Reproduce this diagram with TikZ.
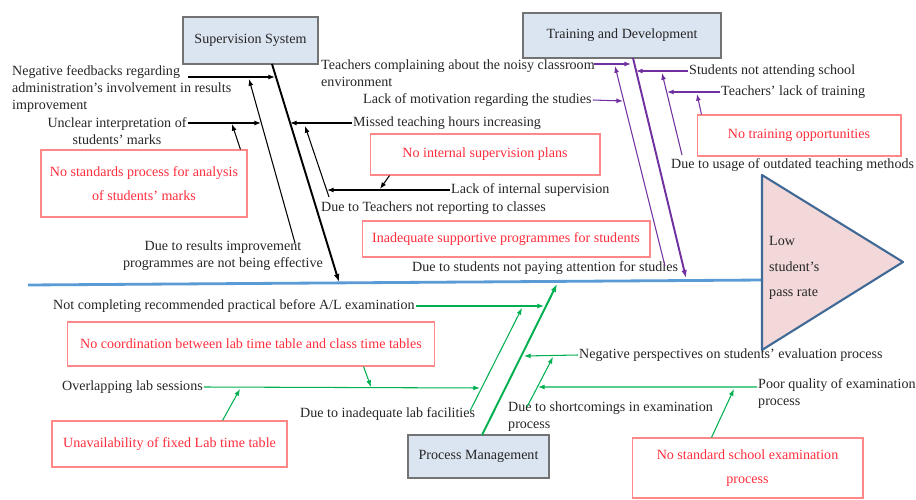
\documentclass[tikz,border=0pt]{standalone}
\usepackage{fontspec}
\setmainfont{Liberation Serif}
\usetikzlibrary{arrows.meta}
\definecolor{spineblue}{RGB}{91,155,213}
\definecolor{effline}{RGB}{65,105,150}
\definecolor{effpink}{RGB}{242,216,216}
\definecolor{catfill}{RGB}{219,228,241}
\definecolor{boxred}{RGB}{255,135,135}
\definecolor{txtred}{RGB}{255,45,60}
\definecolor{trpurple}{RGB}{112,48,160}
\definecolor{prgreen}{RGB}{0,176,80}

\begin{document}
\begin{tikzpicture}[x=0.02cm, y=-0.02cm,
    font=\fontsize{8}{9.7}\selectfont,
    txt/.style={
        inner sep=0.5pt,
        text=black!85
    },
    catbox/.style={
        draw=black!55,
        fill=catfill,
        line width=0.6pt,
        text=black!85
    },
    redbox/.style={
        draw=boxred,
        line width=0.6pt,
        text=txtred,
        align=center,
        font=\fontsize{8}{14}\selectfont
    },
    spine/.style={
        spineblue,
        line width=1.6pt
    },
    bone/.style={
        line width=1.1pt,
        -{Latex[length=4.5pt,width=3.2pt]}
    },
    twig/.style={
        line width=0.6pt,
        -{Latex[length=3.8pt,width=2.8pt]}
    }
]
\useasboundingbox (0,0) rectangle (916,500);

% spine and effect
\coordinate (spineTail) at (28,285);
\coordinate (spineHead) at (764,280);
\draw[spine] (spineTail) -- (spineHead);

\path[
    draw=effline,
    fill=effpink,
    line width=1.2pt,
    line join=round
]
(762,175) coordinate (effTop)
-- (903,262) coordinate (effTip)
-- (762,350) coordinate (effBot)
-- cycle;

\node[txt, anchor=west, align=left, font=\fontsize{8}{14.5}\selectfont]
(effect) at (768,268) {Low\\student's\\pass rate};

% categories
\node[catbox, minimum width=2.70cm, minimum height=0.94cm]
(supBox) at (250.5,40.5) {Supervision System};
\node[catbox, minimum width=3.96cm, minimum height=0.90cm]
(trainBox) at (622,35.5) {Training and Development};
\node[catbox, minimum width=2.82cm, minimum height=0.86cm]
(procBox) at (478.5,456.5) {Process Management};

% supervision system
\node[txt, anchor=west, align=left] (negFb) at (11,89)
{Negative feedbacks regarding\\administration's involvement in results\\improvement};
\node[txt, align=center] (unclear) at (117,131)
{Unclear interpretation of\\students' marks};
\node[txt, align=center] (dueResults) at (223,256)
{Due to results improvement\\programmes are not being effective};
\node[txt, anchor=west] (missed) at (352,123) {Missed teaching hours increasing};
\node[txt, anchor=west] (lackSup) at (450,190) {Lack of internal supervision};
\node[txt, anchor=west] (dueTeach) at (320,208) {Due to Teachers not reporting to classes};

\node[redbox, minimum width=4.12cm, minimum height=1.34cm]
(noStd) at (144,183.5) {No standards process for analysis\\of students' marks};
\node[redbox, minimum width=4.60cm, minimum height=0.82cm]
(noIntSup) at (485,154.5) {No internal supervision plans};
\node[redbox, minimum width=5.76cm, minimum height=0.72cm]
(inadeq) at (506,239) {Inadequate supportive programmes for students};

\coordinate (supTop) at (272,64);
\coordinate (supEnd) at (339,282);
\coordinate (nfStart) at (188,77);
\coordinate (nfEnd) at (275,77);
\coordinate (drStart) at (295,243);
\coordinate (drEnd) at (249,79);
\coordinate (unStart) at (188,123);
\coordinate (unEnd) at (261,123);
\coordinate (nsEnd) at (232,124);
\coordinate (msEnd) at (290,123);
\coordinate (dtStart) at (329,197);
\coordinate (dtEnd) at (305,126);
\coordinate (lsEnd) at (327,190);
\coordinate (isEnd) at (380,189);

\draw[bone] (supTop) -- (supEnd);
\draw[twig] (nfStart) -- (nfEnd);
\draw[twig] (drStart) -- (drEnd);
\draw[twig] (unStart) -- (unEnd);
\draw[twig] ([xshift=-0.14cm]noStd.north east) -- (nsEnd);
\draw[twig] (missed.west) -- (msEnd);
\draw[twig] (dtStart) -- (dtEnd);
\draw[twig] (lackSup.west) -- (lsEnd);
\draw[twig] ([xshift=0.4cm]noIntSup.south west) -- (isEnd);

% training and development
\begin{scope}[trpurple]
\node[txt, anchor=west, align=left] (teachNoisy) at (320,73)
{Teachers complaining about the noisy classroom\\environment};
\node[txt, anchor=west] (lackMot) at (362,100) {Lack of motivation regarding the studies};
\node[txt, anchor=west] (studNot) at (688,71) {Students not attending school};
\node[txt, anchor=west] (teachTrain) at (720,92) {Teachers' lack of training};
\node[txt, anchor=west] (dueOutdated) at (670,165) {Due to usage of outdated teaching methods};
\node[txt, anchor=west] (dueStudents) at (411,268) {Due to students not paying attention for studies};

\node[redbox, minimum width=4.08cm, minimum height=0.82cm]
(noTrain) at (799,135.5) {No training opportunities};

\coordinate (trTop) at (633,58);
\coordinate (trEnd) at (686,278);
\coordinate (tnStart) at (594,64);
\coordinate (tnEnd) at (631,64);
\coordinate (dsStart) at (665,266);
\coordinate (dsEnd) at (615,66);
\coordinate (lmEnd) at (623,101);
\coordinate (snEnd) at (636,71);
\coordinate (doStart) at (682,155);
\coordinate (doEnd) at (662,73);
\coordinate (ttEnd) at (667,92);
\coordinate (ntEnd) at (697,94);

\draw[bone] (trTop) -- (trEnd);
\draw[twig] (tnStart) -- (tnEnd);
\draw[twig] (dsStart) -- (dsEnd);
\draw[twig] (lackMot.east) -- (lmEnd);
\draw[twig] (studNot.west) -- (snEnd);
\draw[twig] (doStart) -- (doEnd);
\draw[twig] (teachTrain.west) -- (ttEnd);
\draw[twig] ([xshift=0.1cm]noTrain.north west) -- (ntEnd);
\end{scope}

% process management
\begin{scope}[prgreen]
\node[txt, anchor=west] (notCompl) at (52,306)
{Not completing recommended practical before A/L examination};
\node[txt, anchor=west] (overlap) at (61,387) {Overlapping lab sessions};
\node[txt, anchor=west] (dueLab) at (299,414) {Due to inadequate lab facilities};
\node[txt, anchor=west] (negPersp) at (578,355)
{Negative perspectives on students' evaluation process};
\node[txt, anchor=west, align=left] (poorQual) at (757,394)
{Poor quality of examination\\process};
\node[txt, anchor=west, align=left] (dueShort) at (507,417)
{Due to shortcomings in examination\\process};

\node[redbox, minimum width=7.36cm, minimum height=0.88cm]
(noCoord) at (251,344) {No coordination between lab time table and class time tables};
\node[redbox, minimum width=4.70cm, minimum height=0.92cm]
(unavail) at (169.5,444) {Unavailability of fixed Lab time table};
\node[redbox, minimum width=4.62cm, minimum height=1.20cm]
(noSchool) at (747.5,468) {No standard school examination\\process};

\coordinate (prTop) at (482,435);
\coordinate (prEnd) at (557,284);
\coordinate (ncEnd) at (544,306);
\coordinate (dlStart) at (470,411);
\coordinate (dlEnd) at (522,308);
\coordinate (olEnd) at (480,388);
\coordinate (coEnd) at (371,387);
\coordinate (unvEnd) at (240,389);
\coordinate (npEnd) at (524,356);
\coordinate (shStart) at (527,407);
\coordinate (shEnd) at (553,357);
\coordinate (pqEnd) at (538,387);
\coordinate (scEnd) at (734,389);

\draw[bone] (prTop) -- (prEnd);
\draw[twig] (notCompl.east) -- (ncEnd);
\draw[twig] (dlStart) -- (dlEnd);
\draw[twig] (overlap.east) -- (olEnd);
\draw[twig] ([xshift=-1.44cm]noCoord.south east) -- (coEnd);
\draw[twig] ([xshift=-1.3cm]unavail.north east) -- (unvEnd);
\draw[twig] (negPersp.west) -- (npEnd);
\draw[twig] (shStart) -- (shEnd);
\draw[twig] ([yshift=0.14cm]poorQual.west) -- (pqEnd);
\draw[twig] ([xshift=1.6cm]noSchool.north west) -- (scEnd);
\end{scope}
\end{tikzpicture}
\end{document}
